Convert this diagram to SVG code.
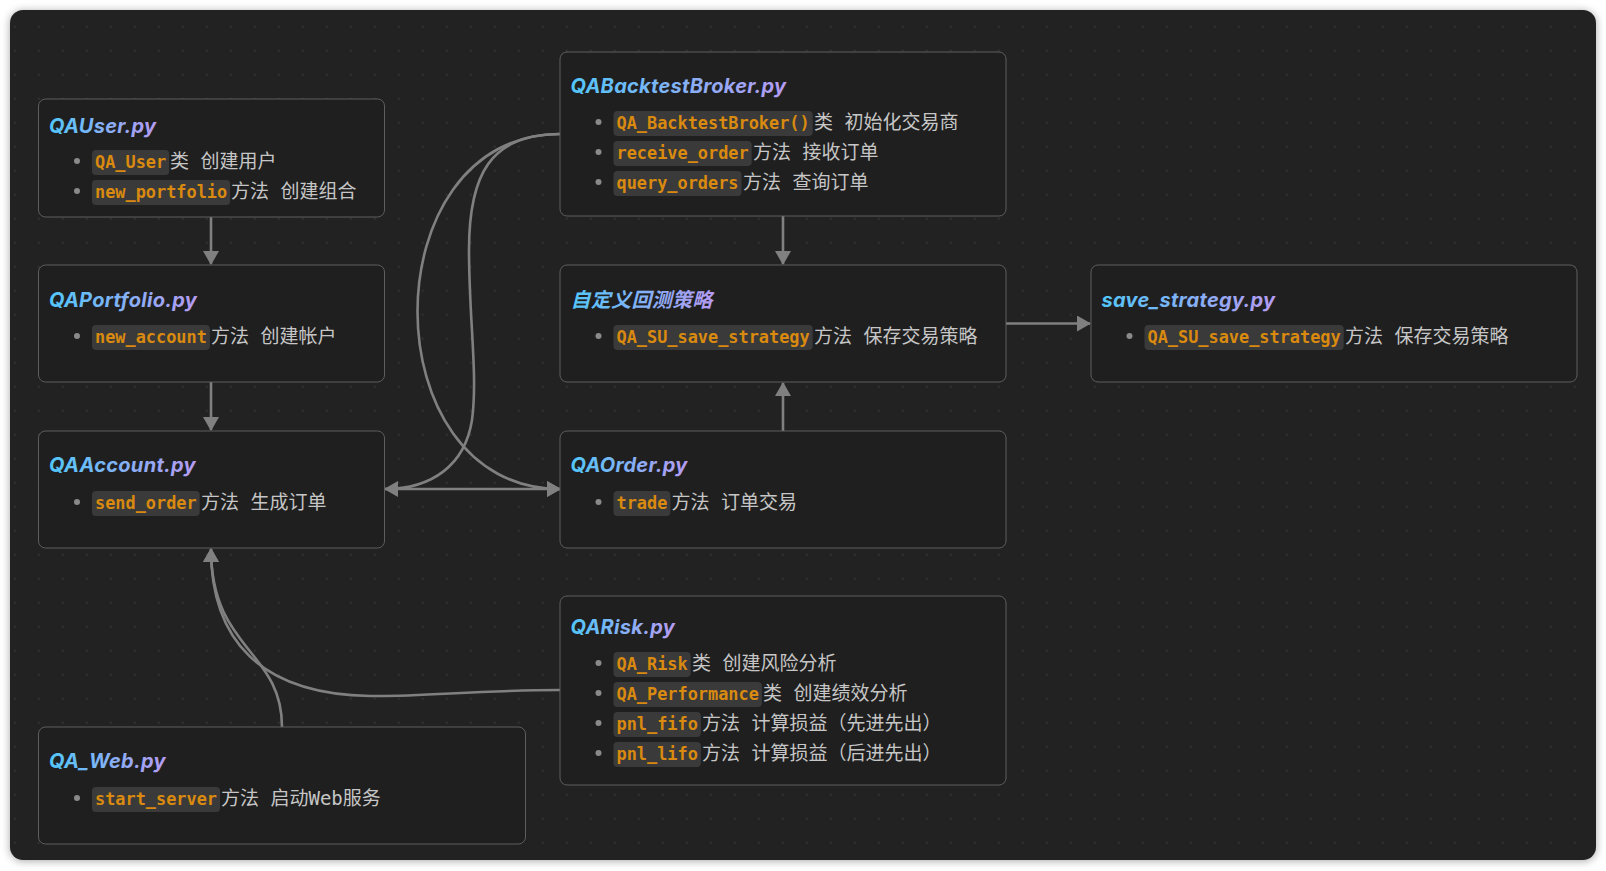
<svg xmlns="http://www.w3.org/2000/svg" width="1606" height="871" viewBox="0 0 1606 871">
<defs>
<style>
.node rect.box{fill:#1f1f1f;stroke:#5e5e5e;stroke-width:1}
.title{font-family:Inter,"Noto Sans","Noto Sans CJK SC",sans-serif;font-weight:700;font-style:italic;font-size:20px;letter-spacing:0.3px;fill:url(#tg)}
.pill{fill:#3a3a3a}
.code{font-family:"DejaVu Sans Mono",monospace;font-size:16.9px;fill:#d98a0f;font-weight:600}
.txt{font-family:"DejaVu Sans Mono","Noto Sans CJK SC",monospace;font-size:19px;fill:#c6c6c6}
.dot{fill:#8a8a8a}
.edge{fill:none;stroke:#808080;stroke-width:2.6}
</style>
<linearGradient id="tg" x1="0" y1="0" x2="1" y2="0">
<stop offset="0" stop-color="#52c7f9"/>
<stop offset="1" stop-color="#b69bf2"/>
</linearGradient>
<pattern id="grid" x="2.7" y="14.7" width="24" height="24" patternUnits="userSpaceOnUse">
<circle cx="12" cy="12" r="1" fill="#363636"/>
</pattern>
<marker id="arr" viewBox="0 0 14 16" refX="13" refY="8" markerWidth="14" markerHeight="16" markerUnits="userSpaceOnUse" orient="auto">
<path d="M0,0 L14,8 L0,16 z" fill="#808080"/>
</marker>
<filter id="sh" x="-5%" y="-5%" width="110%" height="110%">
<feDropShadow dx="0" dy="1" stdDeviation="4" flood-color="#000" flood-opacity="0.35"/>
</filter>
</defs>
<rect width="1606" height="871" fill="#ffffff"/>
<rect x="10" y="10" width="1586" height="850" rx="13" fill="#222222" filter="url(#sh)"/>
<rect x="10" y="10" width="1586" height="850" rx="13" fill="url(#grid)"/>

<g id="connectors">
<path class="edge" d="M211,217 L211,264" marker-end="url(#arr)"/>
<path class="edge" d="M211,382 L211,430" marker-end="url(#arr)"/>
<path class="edge" d="M783,216 L783,264" marker-end="url(#arr)"/>
<path class="edge" d="M783,431 L783,383" marker-end="url(#arr)"/>
<path class="edge" d="M1006,323.5 L1090,323.5" marker-end="url(#arr)"/>
<path class="edge" d="M560,134 C370,134 370,489 560,489" marker-end="url(#arr)"/>
<path class="edge" d="M560,134 C490,134 469,175 469,250 C469,320 478,375 472,420 C465,465 432,489 385,489" marker-end="url(#arr)"/>
<path class="edge" d="M385,489 L560,489" marker-end="url(#arr)"/>
<path class="edge" d="M560,690 C480,690 420,697 370,696 C260,694 211,640 211,549" marker-end="url(#arr)"/>
<path class="edge" d="M282,727 C282,650 211,650 211,549" marker-end="url(#arr)"/>
</g>

<g id="QAUser" class="node">
<rect class="box" x="38.5" y="99" width="346" height="118" rx="7"/>
<text class="title" x="49" y="133">QAUser.py</text>
<circle class="dot" cx="77" cy="161" r="3"/>
<rect class="pill" x="92" y="150" width="77.2" height="25" rx="4"/>
<text class="code" x="95" y="168">QA_User</text>
<text class="txt" x="170" y="168">类 创建用户</text>
<circle class="dot" cx="77" cy="191" r="3"/>
<rect class="pill" x="92" y="180" width="138.2" height="25" rx="4"/>
<text class="code" x="95" y="198">new_portfolio</text>
<text class="txt" x="231" y="198">方法 创建组合</text>
</g>

<g id="QAPortfolio" class="node">
<rect class="box" x="38.5" y="265" width="346" height="117" rx="7"/>
<text class="title" x="49" y="307">QAPortfolio.py</text>
<circle class="dot" cx="77" cy="336" r="3"/>
<rect class="pill" x="92" y="325" width="117.9" height="25" rx="4"/>
<text class="code" x="95" y="343">new_account</text>
<text class="txt" x="211" y="343">方法 创建帐户</text>
</g>

<g id="QAAccount" class="node">
<rect class="box" x="38.5" y="431" width="346" height="117" rx="7"/>
<text class="title" x="49" y="472">QAAccount.py</text>
<circle class="dot" cx="77" cy="502" r="3"/>
<rect class="pill" x="92" y="491" width="107.7" height="25" rx="4"/>
<text class="code" x="95" y="509">send_order</text>
<text class="txt" x="201" y="509">方法 生成订单</text>
</g>

<g id="QABacktestBroker" class="node">
<rect class="box" x="560" y="52" width="446" height="164" rx="7"/>
<text class="title" x="570.5" y="93">QABacktestBroker.py</text>
<circle class="dot" cx="598.5" cy="122" r="3"/>
<rect class="pill" x="613.5" y="111" width="199.2" height="25" rx="4"/>
<text class="code" x="616.5" y="129">QA_BacktestBroker()</text>
<text class="txt" x="814" y="129">类 初始化交易商</text>
<circle class="dot" cx="598.5" cy="152" r="3"/>
<rect class="pill" x="613.5" y="141" width="138.2" height="25" rx="4"/>
<text class="code" x="616.5" y="159">receive_order</text>
<text class="txt" x="753" y="159">方法 接收订单</text>
<circle class="dot" cx="598.5" cy="182" r="3"/>
<rect class="pill" x="613.5" y="171" width="128" height="25" rx="4"/>
<text class="code" x="616.5" y="189">query_orders</text>
<text class="txt" x="743" y="189">方法 查询订单</text>
</g>

<g id="CustomStrategy" class="node">
<rect class="box" x="560" y="265" width="446" height="117" rx="7"/>
<text class="title" x="570.5" y="307">自定义回测策略</text>
<circle class="dot" cx="598.5" cy="336" r="3"/>
<rect class="pill" x="613.5" y="325" width="199.2" height="25" rx="4"/>
<text class="code" x="616.5" y="343">QA_SU_save_strategy</text>
<text class="txt" x="814" y="343">方法 保存交易策略</text>
</g>

<g id="QAOrder" class="node">
<rect class="box" x="560" y="431" width="446" height="117" rx="7"/>
<text class="title" x="570.5" y="472">QAOrder.py</text>
<circle class="dot" cx="598.5" cy="502" r="3"/>
<rect class="pill" x="613.5" y="491" width="56.9" height="25" rx="4"/>
<text class="code" x="616.5" y="509">trade</text>
<text class="txt" x="671.5" y="509">方法 订单交易</text>
</g>

<g id="save_strategy" class="node">
<rect class="box" x="1091" y="265" width="486" height="117" rx="7"/>
<text class="title" x="1101.5" y="307">save_strategy.py</text>
<circle class="dot" cx="1129.5" cy="336" r="3"/>
<rect class="pill" x="1144.5" y="325" width="199.2" height="25" rx="4"/>
<text class="code" x="1147.5" y="343">QA_SU_save_strategy</text>
<text class="txt" x="1345" y="343">方法 保存交易策略</text>
</g>

<g id="QARisk" class="node">
<rect class="box" x="560" y="596" width="446" height="189" rx="7"/>
<text class="title" x="570.5" y="634">QARisk.py</text>
<circle class="dot" cx="598.5" cy="663" r="3"/>
<rect class="pill" x="613.5" y="652" width="77.2" height="25" rx="4"/>
<text class="code" x="616.5" y="670">QA_Risk</text>
<text class="txt" x="692" y="670">类 创建风险分析</text>
<circle class="dot" cx="598.5" cy="693" r="3"/>
<rect class="pill" x="613.5" y="682" width="148.4" height="25" rx="4"/>
<text class="code" x="616.5" y="700">QA_Performance</text>
<text class="txt" x="763" y="700">类 创建绩效分析</text>
<circle class="dot" cx="598.5" cy="723" r="3"/>
<rect class="pill" x="613.5" y="712" width="87.4" height="25" rx="4"/>
<text class="code" x="616.5" y="730">pnl_fifo</text>
<text class="txt" x="702" y="730">方法 计算损益（先进先出）</text>
<circle class="dot" cx="598.5" cy="753" r="3"/>
<rect class="pill" x="613.5" y="742" width="87.4" height="25" rx="4"/>
<text class="code" x="616.5" y="760">pnl_lifo</text>
<text class="txt" x="702" y="760">方法 计算损益（后进先出）</text>
</g>

<g id="QA_Web" class="node">
<rect class="box" x="38.5" y="727" width="487" height="117" rx="7"/>
<text class="title" x="49" y="768">QA_Web.py</text>
<circle class="dot" cx="77" cy="798" r="3"/>
<rect class="pill" x="92" y="787" width="128" height="25" rx="4"/>
<text class="code" x="95" y="805">start_server</text>
<text class="txt" x="221" y="805">方法 启动Web服务</text>
</g>
</svg>
